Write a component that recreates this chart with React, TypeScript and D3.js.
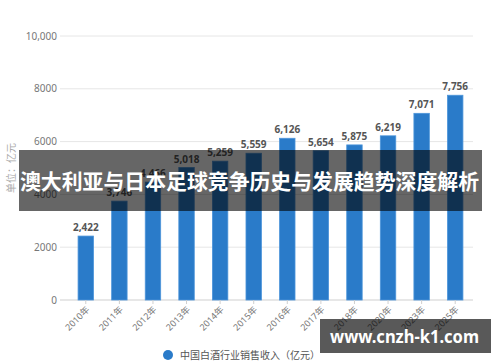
import React from "react";
import * as d3 from "d3";

const categories = ["2010年","2011年","2012年","2013年","2014年","2015年","2016年","2017年","2018年","2020年","2023年","2025年"];
const values = [2422, 3746, 4466, 5018, 5259, 5559, 6126, 5654, 5875, 6219, 7071, 7756];
const yTicks = [0, 2000, 4000, 6000, 8000, 10000];
const yTickLabels = ["0", "2000", "4000", "6000", "8000", "10,000"];
const seriesName = "中国白酒行业销售收入（亿元）";
const yTitle = "单位：亿元";
const bannerText = "澳大利亚与日本足球竞争历史与发展趋势深度解析";
const siteText = "www.cnzh-k1.com";

export default function App() {
  const W = 500, H = 362;
  const x = d3.scaleBand<string>().domain(categories).range([69, 472]).paddingInner(0.54).paddingOuter(0.27);
  const y = d3.scaleLinear().domain([0, 10000]).range([300, 36]);
  const fmt = d3.format(",");
  const font = "'Noto Sans', 'Noto Sans CJK SC', sans-serif";
  return (
    <svg width={W} height={H} style={{ position: "absolute", left: 0, top: 0, background: "#fff" }}>
      <rect width={W} height={H} fill="#fff" />
      {yTicks.map((t, i) => (
        <g key={t}>
          <line x1={60} x2={473} y1={y(t)} y2={y(t)} stroke={t === 0 ? "#cfcfcf" : "#e6e6e6"} strokeWidth={1} />
          <text x={57} y={y(t)} dy="0.35em" textAnchor="end" fontSize={10} fill="#777" fontFamily={font}>{yTickLabels[i]}</text>
        </g>
      ))}
      <text transform={`translate(15,168) rotate(-90)`} textAnchor="middle" fontSize={10} fill="#aaa" fontFamily={font}>{yTitle}</text>
      {categories.map((c, i) => {
        const bx = x(c)!;
        const bw = x.bandwidth();
        const cx = bx + bw / 2;
        return (
          <g key={c}>
            <rect x={bx} y={y(values[i])} width={bw} height={y(0) - y(values[i])} fill="#2a7bc9" stroke="#4d95da" strokeWidth={0.8} />
            <text x={cx} y={y(values[i]) - 5} textAnchor="middle" fontSize={10} fontWeight="bold" fill="#555" fontFamily={font}>{fmt(values[i])}</text>
            <line x1={cx} x2={cx} y1={300} y2={304} stroke="#cfcfcf" />
            <text transform={`translate(${cx + 2},${308}) rotate(-45)`} textAnchor="end" dy="0.35em" fontSize={9} fill="#777" fontFamily={font}>{c}</text>
          </g>
        );
      })}
      <circle cx={168} cy={355} r={5} fill="#2a7bc9" />
      <text x={180} y={355} dy="0.35em" fontSize={10} fill="#555" fontFamily={font}>{seriesName}</text>
      <rect x={19} y={150} width={463} height={61} fill="rgba(0,0,0,0.6)" />
      <text x={20} y={182} dy="0.35em" fontSize={21} fontWeight="bold" fill="#fff" fontFamily={font} textLength={459} lengthAdjust="spacingAndGlyphs">{bannerText}</text>
      <rect x={320} y={319} width={171} height={34} fill="rgba(0,0,0,0.65)" />
      <text x={330} y={337} dy="0.35em" fontSize={18} fontWeight="bold" fill="#fff" fontFamily={font} textLength={149} lengthAdjust="spacingAndGlyphs">{siteText}</text>
    </svg>
  );
}
